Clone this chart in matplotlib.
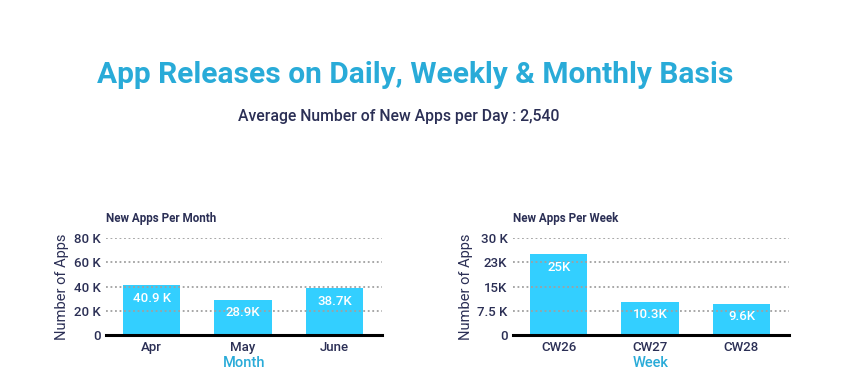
import numpy as np
import matplotlib.pyplot as plt

plt.rcParams['font.family'] = ['Roboto', 'DejaVu Sans']

months = ["Apr", "May", "June"]
month_vals = [40.9, 28.9, 38.7]
month_labels = ["40.9 K", "28.9K", "38.7K"]
month_ticks = [0, 20, 40, 60, 80]
month_ticklabels = ["0", "20 K", "40 K", "60 K", "80 K"]

weeks = ["CW26", "CW27", "CW28"]
week_vals = [25.0, 10.3, 9.6]
week_labels = ["25K", "10.3K", "9.6K"]
week_ticks = [0, 7.5, 15, 22.5, 30]
week_ticklabels = ["0", "7.5 K", "15K", "23K", "30 K"]

navy = "#2b2f55"
cyan = "#29abd8"
bar_color = "#33cfff"

fig = plt.figure(figsize=(8.58, 3.86), dpi=100)
fig.patch.set_facecolor("white")

fig.text(415 / 858, 1 - 75 / 386, "App Releases on Daily, Weekly & Monthly Basis",
         ha="center", va="center", fontsize=21.5, fontweight="bold", color=cyan)
fig.text(399 / 858, 1 - 116 / 386, "Average Number of New Apps per Day : 2,540",
         ha="center", va="center", fontsize=11.3, fontweight="medium", color=navy)


def panel(rect, cats, vals, labels, ticks, ticklabels, ymax, title, xlabel):
    ax = fig.add_axes(rect)
    x = np.arange(len(cats))
    ax.bar(x, vals, width=0.63, color=bar_color, zorder=1)
    ax.set_xlim(-0.5, 2.52)
    ax.set_ylim(0, ymax)
    ax.set_yticks(ticks)
    ax.set_yticklabels(ticklabels)
    ax.set_xticks(x)
    ax.set_xticklabels(cats)
    for t in ticks[1:]:
        ax.axhline(t, color="#a0a0a0", linestyle=(0, (1, 1.5)), lw=1.3, zorder=2)
    ax.axhline(0, color="black", lw=2.2, zorder=3, clip_on=False)
    for s in ax.spines.values():
        s.set_visible(False)
    ax.tick_params(length=0, labelsize=9.5, labelcolor=navy, pad=4)
    for lab in ax.get_xticklabels() + ax.get_yticklabels():
        lab.set_fontweight("medium")
    for xi, v, lab in zip(x, vals, labels):
        ax.annotate(lab, (xi, v), xytext=(0, -13), textcoords="offset pixels",
                    ha="center", va="center", color="white", fontsize=9.5,
                    fontweight="medium", zorder=4)
    ax.set_ylabel("Number of Apps", color=navy, fontsize=10.5, labelpad=3)
    ax.set_xlabel(xlabel, color=cyan, fontsize=10.5, fontweight="medium", labelpad=2)
    ax.text(0, 1.2, title, transform=ax.transAxes, ha="left", va="center",
            fontsize=8.4, fontweight="bold", color=navy)
    return ax


W, H = 858, 386
panel([106 / W, 1 - 335 / H, 276 / W, 97 / H], months, month_vals, month_labels,
      month_ticks, month_ticklabels, 80, "New Apps Per Month", "Month")
panel([513 / W, 1 - 335 / H, 276 / W, 97 / H], weeks, week_vals, week_labels,
      week_ticks, week_ticklabels, 30, "New Apps Per Week", "Week")

fig.savefig("out.png", dpi=100)
